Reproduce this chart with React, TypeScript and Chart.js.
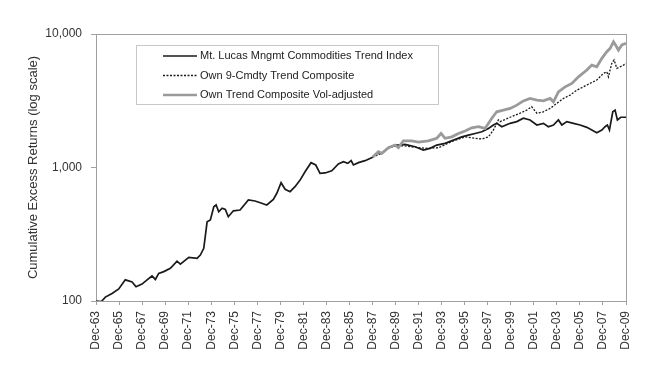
import React, { useEffect, useRef } from "react";
import { Chart, registerables } from "chart.js";

Chart.register(...registerables);

// ---- Data (decimal years, cumulative excess returns) ----
const tickYears = [1963, 1965, 1967, 1969, 1971, 1973, 1975, 1977, 1979, 1981, 1983, 1985, 1987, 1989, 1991, 1993, 1995, 1997, 1999, 2001, 2003, 2005, 2007, 2009];
const tickLabels = ["Dec-63", "Dec-65", "Dec-67", "Dec-69", "Dec-71", "Dec-73", "Dec-75", "Dec-77", "Dec-79", "Dec-81", "Dec-83", "Dec-85", "Dec-87", "Dec-89", "Dec-91", "Dec-93", "Dec-95", "Dec-97", "Dec-99", "Dec-01", "Dec-03", "Dec-05", "Dec-07", "Dec-09"];
const yTicks = [100, 1000, 10000];

const mlmDates = [1963.92, 1964.38, 1964.73, 1965.31, 1965.89, 1966.46, 1967.05, 1967.39, 1967.91, 1968.35, 1968.78, 1969.07, 1969.36, 1969.80, 1970.37, 1970.95, 1971.24, 1971.97, 1972.69, 1972.97, 1973.27, 1973.56, 1973.84, 1974.14, 1974.34, 1974.57, 1974.86, 1975.14, 1975.40, 1975.84, 1976.42, 1977.14, 1977.72, 1978.30, 1978.74, 1979.31, 1979.61, 1979.98, 1980.33, 1980.76, 1981.19, 1981.63, 1982.06, 1982.58, 1982.99, 1983.36, 1983.80, 1984.38, 1984.95, 1985.39, 1985.77, 1986.06, 1986.26, 1986.69, 1987.27, 1987.92, 1988.29, 1988.72, 1989.30, 1989.88, 1990.16, 1990.74, 1991.61, 1992.33, 1992.91, 1993.49, 1994.21, 1994.94, 1995.67, 1996.24, 1996.82, 1997.40, 1997.98, 1998.41, 1998.70, 1999.14, 1999.86, 2000.44, 2001.01, 2001.59, 2002.18, 2002.75, 2003.18, 2003.62, 2004.05, 2004.35, 2004.78, 2005.35, 2005.93, 2006.52, 2006.95, 2007.38, 2007.82, 2008.10, 2008.30, 2008.48, 2008.77, 2008.97, 2009.17, 2009.46, 2009.92];
const mlmValues = [100, 99, 107, 114, 123, 144, 139, 128, 134, 144, 154, 145, 161, 166, 176, 199, 189, 212, 209, 221, 248, 392, 404, 508, 524, 466, 495, 486, 428, 474, 480, 571, 561, 540, 524, 577, 641, 769, 687, 659, 718, 805, 930, 1087, 1044, 905, 910, 946, 1063, 1105, 1074, 1125, 1044, 1087, 1125, 1191, 1276, 1276, 1406, 1473, 1473, 1490, 1430, 1352, 1392, 1473, 1515, 1604, 1697, 1747, 1799, 1851, 1962, 2081, 2143, 2021, 2143, 2206, 2340, 2271, 2081, 2143, 2021, 2081, 2271, 2081, 2206, 2143, 2081, 1999, 1910, 1823, 1910, 2021, 2081, 1910, 2615, 2692, 2271, 2379, 2379];

const compDates = [1987.92, 1988.72, 1989.30, 1989.88, 1990.74, 1991.61, 1992.48, 1993.64, 1994.80, 1995.95, 1996.82, 1997.40, 1997.98, 1998.41, 1998.84, 1998.99, 1999.86, 2000.73, 2001.30, 2001.73, 2002.18, 2002.75, 2003.33, 2003.91, 2004.48, 2005.06, 2005.64, 2006.22, 2006.78, 2007.38, 2007.96, 2008.25, 2008.39, 2008.68, 2008.88, 2009.12, 2009.56, 2009.92];
const compValues = [1191, 1285, 1400, 1450, 1450, 1420, 1392, 1406, 1567, 1697, 1655, 1634, 1697, 1910, 2271, 2206, 2379, 2551, 2692, 2853, 2551, 2615, 2770, 3025, 3289, 3483, 3793, 4021, 4266, 4518, 5071, 5212, 4781, 6022, 6388, 5529, 5750, 6022];

const volDates = [1987.92, 1988.42, 1988.72, 1989.30, 1989.88, 1990.16, 1990.59, 1991.32, 1991.90, 1992.76, 1993.49, 1993.87, 1994.21, 1994.80, 1995.37, 1995.95, 1996.53, 1997.11, 1997.69, 1998.27, 1998.70, 1999.28, 1999.86, 2000.44, 2001.01, 2001.59, 2002.18, 2002.75, 2003.33, 2003.62, 2004.05, 2004.63, 2005.22, 2005.79, 2006.52, 2006.95, 2007.38, 2007.82, 2008.25, 2008.54, 2008.83, 2009.06, 2009.26, 2009.56, 2009.92];
const volValues = [1191, 1313, 1276, 1406, 1473, 1406, 1585, 1585, 1549, 1585, 1655, 1799, 1655, 1697, 1799, 1876, 1983, 2021, 1962, 2340, 2615, 2692, 2770, 2932, 3153, 3289, 3194, 3153, 3289, 3103, 3689, 4021, 4266, 4781, 5369, 5849, 5683, 6567, 7368, 7808, 8750, 8129, 7586, 8277, 8517];

const seriesNames = ["Mt. Lucas Mngmt Commodities Trend Index", "Own 9-Cmdty Trend Composite", "Own Trend Composite Vol-adjusted"];
const yTitle = "Cumulative Excess Returns (log scale)";

const FONT = "'Liberation Sans', Arial, Helvetica, sans-serif";
const DEC = 11 / 12;

const toPoints = (d: number[], v: number[]) => d.map((x, i) => ({ x, y: v[i] }));

const framePlugin = {
  id: "frame",
  beforeDatasetsDraw(chart: any) {
    const { ctx, chartArea: a } = chart;
    ctx.save();
    ctx.strokeStyle = "#a0a0a0";
    ctx.lineWidth = 1;
    ctx.strokeRect(Math.round(a.left) + 0.5, Math.round(a.top) + 0.5, Math.round(a.right - a.left), Math.round(a.bottom - a.top));
    ctx.restore();
  },
};

const boxLegendPlugin = {
  id: "boxLegend",
  afterDraw(chart: any) {
    const { ctx, chartArea: a } = chart;
    const left = a.left + 40;
    const top = a.top + 11;
    const w = 302;
    const h = 59;
    ctx.save();
    ctx.fillStyle = "#ffffff";
    ctx.fillRect(left, top, w, h);
    ctx.strokeStyle = "#c8c8c8";
    ctx.lineWidth = 1;
    ctx.strokeRect(left + 0.5, top + 0.5, w, h);
    const styles = [
      { color: "#1a1a1a", width: 1.4, dash: [] as number[] },
      { color: "#1a1a1a", width: 1.3, dash: [2, 1.5] },
      { color: "#9a9a9a", width: 2.6, dash: [] as number[] },
    ];
    ctx.font = `11px ${FONT}`;
    ctx.textBaseline = "middle";
    ctx.textAlign = "left";
    seriesNames.forEach((name, i) => {
      const y = top + 11 + i * 19.5;
      const s = styles[i];
      ctx.beginPath();
      ctx.setLineDash(s.dash);
      ctx.strokeStyle = s.color;
      ctx.lineWidth = s.width;
      ctx.moveTo(left + 27, y);
      ctx.lineTo(left + 61, y);
      ctx.stroke();
      ctx.setLineDash([]);
      ctx.fillStyle = "#222";
      ctx.fillText(name, left + 64, y);
    });
    ctx.restore();
  },
};

export default function App() {
  const ref = useRef<HTMLCanvasElement | null>(null);

  useEffect(() => {
    if (!ref.current) return;
    const chart = new Chart(ref.current, {
      type: "line",
      data: {
        datasets: [
          {
            label: seriesNames[0],
            data: toPoints(mlmDates, mlmValues),
            borderColor: "#1a1a1a",
            borderWidth: 1.7,
            pointRadius: 0,
            order: 2,
          },
          {
            label: seriesNames[1],
            data: toPoints(compDates, compValues),
            borderColor: "#1a1a1a",
            borderWidth: 1.3,
            borderDash: [2, 1.5],
            pointRadius: 0,
            order: 1,
          },
          {
            label: seriesNames[2],
            data: toPoints(volDates, volValues),
            borderColor: "#9a9a9a",
            borderWidth: 2.8,
            pointRadius: 0,
            order: 0,
          },
        ],
      },
      options: {
        animation: false,
        responsive: false,
        parsing: true,
        layout: { padding: { left: 0, right: 24, top: 34, bottom: 0 } },
        plugins: { legend: { display: false }, tooltip: { enabled: false } },
        elements: { line: { tension: 0 } },
        scales: {
          x: {
            type: "linear",
            min: tickYears[0] + DEC,
            max: tickYears[tickYears.length - 1] + DEC,
            afterBuildTicks: (s: any) => {
              s.ticks = tickYears.map((yr) => ({ value: yr + DEC }));
            },
            afterFit: (s: any) => {
              s.height = 77;
            },
            ticks: {
              autoSkip: false,
              maxRotation: 90,
              minRotation: 90,
              padding: 6,
              color: "#333",
              font: { family: FONT, size: 12 },
              callback: (_v: any, i: number) => tickLabels[i],
            },
            grid: { display: true, drawOnChartArea: false, tickLength: 4, color: "#a0a0a0" },
            border: { color: "#a0a0a0", width: 1 },
          },
          y: {
            type: "logarithmic",
            min: 100,
            max: 10000,
            afterBuildTicks: (s: any) => {
              s.ticks = yTicks.map((v) => ({ value: v }));
            },
            afterFit: (s: any) => {
              s.width = 96;
            },
            ticks: {
              padding: 9,
              color: "#333",
              font: { family: FONT, size: 12 },
              callback: (v: any) => Number(v).toLocaleString("en-US"),
            },
            grid: { display: true, drawOnChartArea: false, tickLength: 5, color: "#a0a0a0" },
            border: { color: "#a0a0a0", width: 1 },
            title: {
              display: true,
              text: yTitle,
              color: "#333",
              font: { family: FONT, size: 13 },
              padding: { top: 26, bottom: 0 },
            },
          },
        },
      },
      plugins: [framePlugin, boxLegendPlugin],
    } as any);
    return () => chart.destroy();
  }, []);

  return (
    <div style={{ position: "fixed", left: 0, top: 0, width: 650, height: 378, background: "#fff" }}>
      <canvas ref={ref} width={650} height={378} style={{ width: 650, height: 378, display: "block" }} />
    </div>
  );
}
